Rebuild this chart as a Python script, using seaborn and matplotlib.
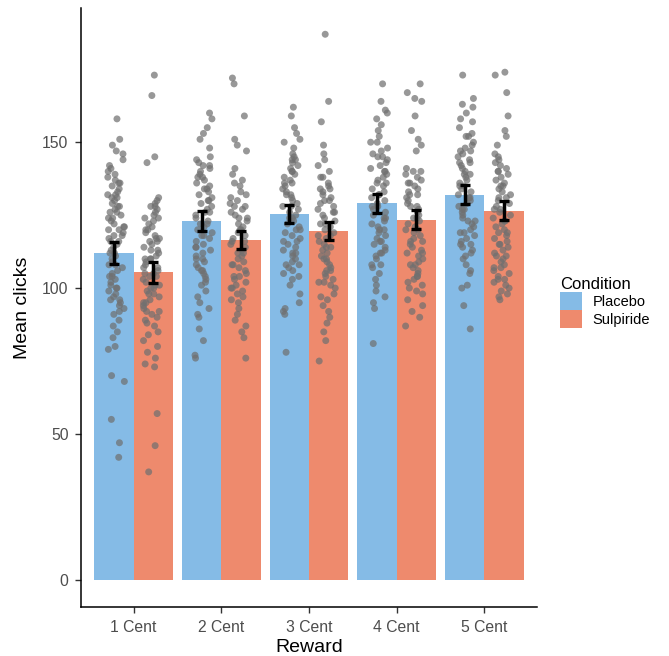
import numpy as np
import pandas as pd
import matplotlib
matplotlib.use("Agg")
import matplotlib.pyplot as plt
from matplotlib.patches import Patch
import seaborn as sns

# ---------------- data ----------------
rewards = ["1 Cent", "2 Cent", "3 Cent", "4 Cent", "5 Cent"]
conditions = ["Placebo", "Sulpiride"]

mean_placebo = [112.0, 123.0, 125.5, 129.0, 132.0]
mean_sulpiride = [105.5, 116.5, 119.5, 123.5, 126.5]
se_placebo = [3.9, 3.3, 3.1, 3.3, 3.3]
se_sulpiride = [3.6, 3.2, 3.1, 3.3, 3.3]

pts_placebo_1 = [158, 151, 149, 147, 146, 144, 142, 141, 140, 139, 138, 137, 136, 135, 134, 133, 132, 131, 131, 130,
                 129, 128, 127, 126, 126, 125, 124, 123, 122, 121, 121, 120, 119, 118, 118, 117, 116, 115, 114, 113,
                 112, 111, 110, 109, 108, 107, 106, 105, 104, 103, 102, 101, 100, 99, 98, 97, 96, 95, 94, 92,
                 91, 89, 87, 85, 83, 80, 79, 70, 68, 55, 47, 42,
                 136, 132, 128, 124, 120, 116, 112, 108, 104, 100, 96, 93]
pts_sulpiride_1 = [173, 166, 145, 143, 131, 130, 129, 128, 127, 126, 125, 124, 123, 122, 121, 120, 119, 118, 117, 117,
                   116, 115, 114, 113, 112, 111, 110, 110, 109, 108, 107, 106, 105, 105, 104, 103, 102, 101, 100, 100,
                   99, 98, 97, 96, 95, 94, 93, 92, 91, 90, 89, 88, 87, 85, 84, 82, 80, 78, 76, 74, 73, 57, 46, 37,
                   128, 124, 120, 116, 113, 110, 107, 104, 101, 98, 95, 92]
pts_placebo_2 = [160, 158, 155, 153, 151, 148, 145, 144, 143, 142, 141, 140, 139, 138, 137, 136, 135, 134, 133, 132,
                 131, 130, 129, 128, 127, 126, 125, 124, 123, 122, 121, 120, 119, 118, 117, 116, 115, 114, 113, 112,
                 111, 110, 109, 108, 107, 106, 105, 104, 103, 101, 99, 97, 95, 93, 91, 90, 86, 82, 77, 76,
                 142, 138, 134, 130, 126, 122, 118, 114, 110, 106, 102]
pts_sulpiride_2 = [172, 170, 159, 151, 149, 147, 141, 139, 137, 135, 133, 131, 130, 129, 128, 127, 126, 125, 124, 123,
                   122, 121, 120, 119, 118, 117, 116, 115, 114, 113, 112, 111, 110, 109, 108, 107, 106, 105, 104, 103,
                   102, 101, 100, 99, 98, 97, 95, 93, 91, 89, 87, 85, 83, 76,
                   136, 132, 128, 124, 120, 116, 112, 108, 104, 100, 96]
pts_placebo_3 = [162, 159, 155, 153, 151, 150, 148, 146, 145, 144, 143, 142, 141, 140, 139, 138, 137, 136, 135, 134,
                 133, 132, 131, 130, 129, 128, 127, 126, 125, 124, 123, 122, 121, 120, 119, 118, 117, 116, 115, 114,
                 113, 112, 111, 110, 109, 108, 107, 106, 105, 103, 101, 98, 95, 93, 92, 91, 78,
                 144, 140, 136, 132, 128, 124, 120, 116, 112, 108, 104]
pts_sulpiride_3 = [187, 164, 157, 149, 146, 144, 142, 140, 138, 136, 135, 134, 133, 132, 131, 130, 129, 128, 127, 126,
                   125, 124, 123, 122, 121, 120, 119, 118, 117, 116, 115, 114, 113, 112, 111, 110, 109, 108, 107, 106,
                   105, 104, 103, 102, 101, 100, 98, 96, 94, 92, 90, 88, 85, 82, 75,
                   138, 134, 130, 126, 122, 118, 114, 110, 106, 102, 97]
pts_placebo_4 = [170, 164, 161, 160, 158, 156, 154, 152, 150, 148, 147, 146, 145, 144, 143, 142, 141, 140, 139, 138,
                 137, 136, 135, 134, 133, 132, 131, 130, 129, 128, 127, 126, 125, 124, 123, 122, 121, 120, 119, 118,
                 117, 116, 115, 114, 113, 112, 111, 110, 108, 107, 105, 103, 101, 99, 97, 95, 93, 81,
                 150, 145, 140, 136, 132, 128, 124, 120, 116, 112, 108]
pts_sulpiride_4 = [170, 167, 165, 164, 159, 154, 151, 149, 147, 141, 140, 139, 138, 137, 136, 135, 134, 133, 132, 131,
                   130, 129, 128, 127, 126, 125, 124, 123, 122, 121, 120, 119, 118, 117, 116, 115, 114, 113, 112, 111,
                   110, 109, 108, 107, 106, 105, 104, 103, 102, 101, 100, 98, 96, 94, 92, 90, 87,
                   140, 136, 132, 128, 124, 120, 116, 112, 108, 104, 99]
pts_placebo_5 = [173, 165, 163, 162, 160, 158, 157, 155, 153, 152, 150, 149, 148, 147, 146, 145, 144, 143, 142, 141,
                 140, 139, 138, 137, 136, 135, 134, 133, 132, 131, 130, 129, 128, 127, 126, 125, 124, 123, 122, 121,
                 120, 119, 118, 117, 116, 115, 114, 113, 112, 110, 108, 106, 105, 101, 100, 94, 86,
                 152, 147, 143, 139, 135, 131, 127, 123, 119, 115, 111]
pts_sulpiride_5 = [174, 173, 167, 159, 154, 152, 149, 146, 144, 143, 142, 141, 140, 139, 138, 137, 136, 135, 134, 133,
                   132, 131, 130, 129, 128, 127, 126, 125, 124, 123, 122, 121, 120, 119, 118, 117, 116, 115, 114, 113,
                   112, 111, 110, 109, 108, 107, 106, 105, 104, 103, 102, 101, 100, 99, 98, 97, 96,
                   145, 140, 135, 131, 127, 123, 119, 115, 111, 107, 103]

points_by_group = {
    ("1 Cent", "Placebo"): pts_placebo_1, ("1 Cent", "Sulpiride"): pts_sulpiride_1,
    ("2 Cent", "Placebo"): pts_placebo_2, ("2 Cent", "Sulpiride"): pts_sulpiride_2,
    ("3 Cent", "Placebo"): pts_placebo_3, ("3 Cent", "Sulpiride"): pts_sulpiride_3,
    ("4 Cent", "Placebo"): pts_placebo_4, ("4 Cent", "Sulpiride"): pts_sulpiride_4,
    ("5 Cent", "Placebo"): pts_placebo_5, ("5 Cent", "Sulpiride"): pts_sulpiride_5,
}

# ---------------- tables ----------------
df_means = pd.DataFrame({
    "Reward": rewards * 2,
    "Condition": ["Placebo"] * 5 + ["Sulpiride"] * 5,
    "Mean": mean_placebo + mean_sulpiride,
})
rows = []
for (rw, cond), vals in points_by_group.items():
    for v in vals:
        rows.append((rw, cond, v))
df_pts = pd.DataFrame(rows, columns=["Reward", "Condition", "Clicks"])

# ---------------- style ----------------
plt.rcParams["font.family"] = ["Liberation Sans", "DejaVu Sans"]
colors = {"Placebo": "#85BBE6", "Sulpiride": "#EE8A6D"}
point_gray = "#707070"

fig = plt.figure(figsize=(6.69, 6.56), dpi=100)
ax = fig.add_axes([81 / 669, 1 - 607 / 656, 456 / 669, 599 / 656])

sns.barplot(data=df_means, x="Reward", y="Mean", hue="Condition",
            order=rewards, hue_order=conditions, palette=colors,
            width=0.9, errorbar=None, saturation=1, legend=False, ax=ax, zorder=1)

np.random.seed(3)
sns.stripplot(data=df_pts, x="Reward", y="Clicks", hue="Condition",
              order=rewards, hue_order=conditions,
              palette={"Placebo": point_gray, "Sulpiride": point_gray},
              dodge=True, jitter=0.2, size=5.0, alpha=0.72, linewidth=0,
              legend=False, ax=ax, zorder=3)

for container, means, ses in zip(ax.containers, [mean_placebo, mean_sulpiride], [se_placebo, se_sulpiride]):
    for bar, m, s in zip(container, means, ses):
        ax.errorbar(bar.get_x() + bar.get_width() / 2, m, yerr=s, fmt="none",
                    ecolor="black", elinewidth=2.5, capsize=3.6, capthick=2.4, zorder=5)

ax.set_xlim(-0.6, 4.6)
ax.set_ylim(-9.3, 196)
ax.set_yticks([0, 50, 100, 150])
ax.spines["top"].set_visible(False)
ax.spines["right"].set_visible(False)
for sp in ("left", "bottom"):
    ax.spines[sp].set_linewidth(1.1)
    ax.spines[sp].set_color("black")
ax.tick_params(axis="both", length=4, width=1.0, color="#333333",
               labelsize=11.3, labelcolor="#4D4D4D", pad=5)
ax.set_xlabel("Reward", fontsize=14, color="black", labelpad=3)
ax.set_ylabel("Mean clicks", fontsize=14, color="black", labelpad=8)

handles = [Patch(facecolor=colors[c], edgecolor="none", label=c) for c in conditions]
leg = fig.legend(handles=handles, title="Condition", loc="upper left",
                 bbox_to_anchor=(553 / 669, 1 - 270 / 656), frameon=False,
                 fontsize=10.5, title_fontsize=12, handlelength=1.5, handleheight=1.5,
                 labelspacing=0.0, handletextpad=0.7, borderpad=0.0, alignment="left")

fig.savefig("out.png", dpi=100)
